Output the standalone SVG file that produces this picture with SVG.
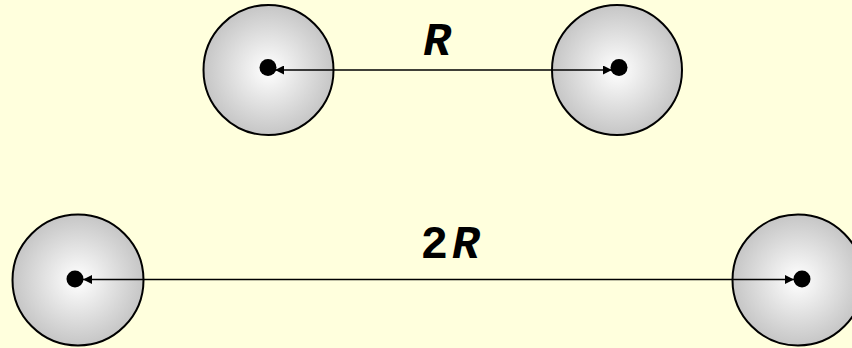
<svg xmlns="http://www.w3.org/2000/svg" width="852" height="348" viewBox="0 0 852 348">
<style>
.ball{fill:url(#g);stroke:#000;stroke-width:2}
.dot{fill:#000}
.conn{stroke:#000;stroke-width:1.6;fill:none;marker-start:url(#a);marker-end:url(#a)}
.lbl{font-family:"Liberation Mono","Courier New",monospace;font-weight:bold;font-size:46px;fill:#000;text-anchor:middle}
</style>
<defs>
<radialGradient id="g" cx="50%" cy="50%" r="50%">
<stop offset="0" stop-color="#ffffff"/>
<stop offset="1" stop-color="#c6c6c6"/>
</radialGradient>
<marker id="a" markerUnits="userSpaceOnUse" viewBox="0 0 10 10" refX="10" refY="5" markerWidth="9" markerHeight="9" orient="auto-start-reverse">
<path d="M0,0 L10,5 L0,10 z" fill="#000"/>
</marker>
</defs>
<rect width="852" height="348" fill="#ffffdd"/>
<g id="ball-top-left"><circle class="ball" cx="268.5" cy="70" r="65"/><circle class="dot" cx="268" cy="67.5" r="8.5"/></g>
<g id="ball-top-right"><circle class="ball" cx="617" cy="70" r="65"/><circle class="dot" cx="619" cy="67.5" r="8.5"/></g>
<g id="ball-bottom-left"><circle class="ball" cx="78" cy="280" r="65.5"/><circle class="dot" cx="75" cy="279" r="8.5"/></g>
<g id="ball-bottom-right"><circle class="ball" cx="798" cy="280" r="65.5"/><circle class="dot" cx="802" cy="279" r="8.5"/></g>
<g id="connectors">
<line class="conn" x1="612" y1="70" x2="275" y2="70"/>
<line class="conn" x1="794" y1="279.5" x2="83" y2="279.5"/>
</g>
<g id="labels">
<text class="lbl" x="437" y="55" font-style="italic">R</text>
<text class="lbl" x="452" y="258" letter-spacing="4">2<tspan font-style="italic">R</tspan></text>
</g>
</svg>
